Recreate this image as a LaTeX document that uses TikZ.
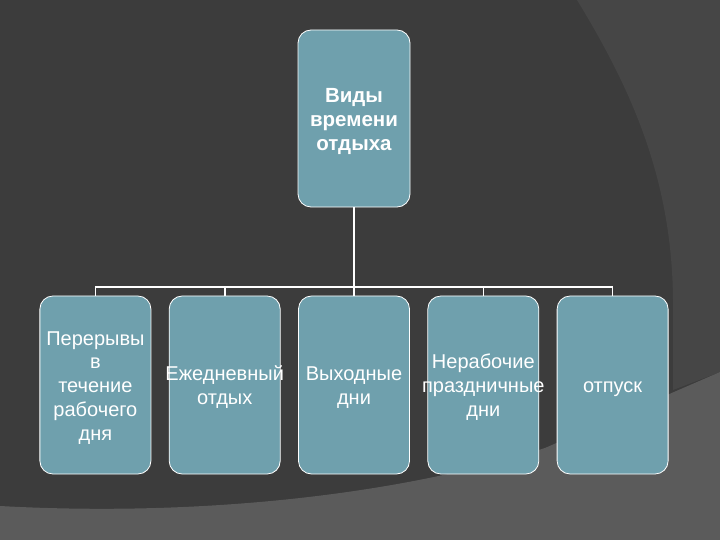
\documentclass[tikz,border=0pt]{standalone}
\usepackage{fontspec}
\setmainfont{Liberation Sans}
\usepackage{tikz}
\usetikzlibrary{positioning,calc}
\usepackage{xcolor}
\definecolor{slate}{HTML}{3C3C3C}
\definecolor{swoosh}{HTML}{464646}
\definecolor{ground}{HTML}{5B5B5B}
\definecolor{teal}{HTML}{6FA0AD}
% text that may run past the box edges without widening it
\newcommand\boxtxt[1]{\makebox[0pt]{\raisebox{-3bp}[\height][\depth]{\begin{tabular}{@{}c@{}}#1\end{tabular}}}}
\tikzset{
  box/.style={draw=white,fill=teal,rounded corners=13bp,line width=0.8bp,align=center,
    inner sep=0pt,minimum width=111bp,minimum height=178bp,text=white,
    font=\fontsize{20bp}{23.8bp}\selectfont},
  topbox/.style={box,minimum width=112bp,minimum height=177bp,
    font=\fontsize{20.5bp}{24bp}\selectfont\bfseries},
  link/.style={draw=white,line width=1.6bp}
}
\begin{document}
\begin{tikzpicture}[x=1bp,y=-1bp,node distance=17.5bp]
  \useasboundingbox (0,0) rectangle (720,540);
  \fill[slate] (0,0) rectangle (720,540);
  \fill[swoosh] (577,0) .. controls (632,90) and (672,180) .. (673,300) -- (673,390) -- (720,372) -- (720,0) -- cycle;
  \fill[ground] (0,506) .. controls (200,517) and (400,495) .. (545,448) -- (720,372) -- (720,540) -- (0,540) -- cycle;
  \node[topbox] (vid) at (354,118.5) {\boxtxt{Виды\\времени\\отдыха}};
  \node[box] (c3) at (354,385) {\boxtxt{Выходные\\дни}};
  \node[box,left=of c3] (c2) {\boxtxt{Ежедневный\\отдых}};
  \node[box,left=of c2] (c1) {\boxtxt{Перерывы\\в\\течение\\рабочего\\дня}};
  \node[box,right=of c3] (c4) {\boxtxt{Нерабочие\\праздничные\\дни}};
  \node[box,right=of c4] (c5) {\boxtxt{отпуск}};
  \coordinate (bus) at (354,287);
  \draw[link] (vid) -- (bus);
  \draw[link] (c1.north) |- (bus) -| (c5.north);
  \foreach \c in {c2,c3,c4}
    \draw[link] (\c.north) -- (\c.north |- bus);
\end{tikzpicture}
\end{document}
